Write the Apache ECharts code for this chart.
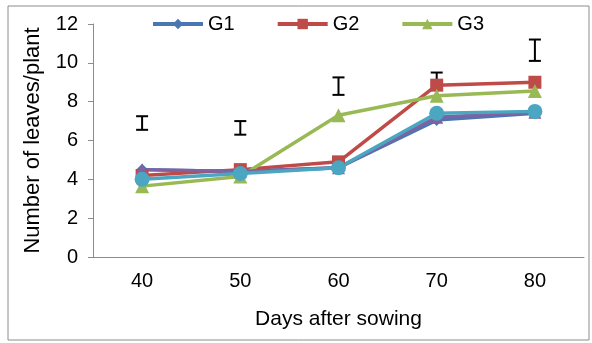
<!DOCTYPE html>
<html>
<head>
<meta charset="utf-8">
<script src="https://cdn.jsdelivr.net/npm/echarts@6/dist/echarts.min.js"></script>
<style>html,body{margin:0;padding:0;background:#fff}#c{width:592px;height:343px}</style>
</head>
<body>
<div id="c"></div>
<script>
const categories = ['40', '50', '60', '70', '80'];
const g1 = [4.5, 4.4, 4.6, 7.05, 7.4];
const g2 = [4.2, 4.5, 4.9, 8.85, 9.0];
const g3 = [3.65, 4.15, 7.3, 8.3, 8.55];
const g4 = [4.5, 4.4, 4.6, 7.2, 7.45];
const g5 = [4.0, 4.3, 4.6, 7.4, 7.5];
const errLow = [6.55, 6.3, 8.35, 8.6, 10.1];
const errHigh = [7.25, 7.0, 9.25, 9.5, 11.2];
const yTicks = [0, 2, 4, 6, 8, 10, 12];

const chart = echarts.init(document.getElementById('c'), null, {renderer: 'canvas'});
const font = 'Liberation Sans, Arial, sans-serif';
function lineSeries(name, data, color, symbol, size) {
  return {
    name: name, type: 'line', data: data, symbol: symbol, symbolSize: size,
    lineStyle: {color: color, width: 3.5}, itemStyle: {color: color},
    emphasis: {disabled: true}, animation: false
  };
}
const errData = categories.map((c, i) => [i, errLow[i], errHigh[i]]);
chart.setOption({
  animation: false,
  graphic: [{type: 'rect', shape: {x: 8, y: 6, width: 581, height: 334}, style: {fill: 'none', stroke: '#8c8c8c', lineWidth: 1}, silent: true}],
  legend: {
    data: ['G1', 'G2', 'G3'], top: 9, left: 146, itemGap: 41, itemWidth: 50, itemHeight: 13,
    lineStyle: {width: 4},
    textStyle: {fontFamily: font, fontSize: 20, color: '#000', padding: [0, 0, 0, 0]}
  },
  grid: {left: 93, right: 8, top: 24, bottom: 86},
  xAxis: {
    type: 'category', data: categories, boundaryGap: true,
    name: 'Days after sowing', nameLocation: 'middle', nameGap: 52,
    nameTextStyle: {fontFamily: font, fontSize: 21, color: '#000'},
    axisLine: {lineStyle: {color: '#8c8c8c', width: 1}},
    axisTick: {alignWithLabel: true, length: 5, lineStyle: {color: '#8c8c8c'}},
    axisLabel: {fontFamily: font, fontSize: 20, color: '#000', margin: 14}
  },
  yAxis: {
    type: 'value', min: yTicks[0], max: yTicks[yTicks.length - 1], interval: 2,
    name: 'Number of leaves/plant', nameLocation: 'middle', nameGap: 49, nameRotate: 90,
    nameTextStyle: {fontFamily: font, fontSize: 22, color: '#000'},
    axisLine: {show: true, lineStyle: {color: '#8c8c8c', width: 1}},
    axisTick: {show: true, length: 5, lineStyle: {color: '#8c8c8c'}},
    splitLine: {show: false},
    axisLabel: {fontFamily: font, fontSize: 20, color: '#000', margin: 15}
  },
  series: [
    lineSeries('G1', g1, '#4a76b4', 'diamond', 12),
    lineSeries('G2', g2, '#be4b48', 'rect', 13),
    lineSeries('G3', g3, '#98b954', 'triangle', 14),
    lineSeries('G4', g4, '#7e62a1', 'triangle', 13),
    lineSeries('G5', g5, '#4aa6c1', 'circle', 15),
    {
      type: 'custom', name: 'err', data: errData, silent: true,
      renderItem: function (params, api) {
        const x = api.value(0);
        const lo = api.coord([x, api.value(1)]);
        const hi = api.coord([x, api.value(2)]);
        const w = 6;
        const st = {stroke: '#000', lineWidth: 2};
        return {type: 'group', children: [
          {type: 'line', shape: {x1: lo[0], y1: lo[1], x2: hi[0], y2: hi[1]}, style: st},
          {type: 'line', shape: {x1: lo[0] - w, y1: lo[1], x2: lo[0] + w, y2: lo[1]}, style: st},
          {type: 'line', shape: {x1: hi[0] - w, y1: hi[1], x2: hi[0] + w, y2: hi[1]}, style: st}
        ]};
      }
    }
  ]
});
</script>
</body>
</html>
